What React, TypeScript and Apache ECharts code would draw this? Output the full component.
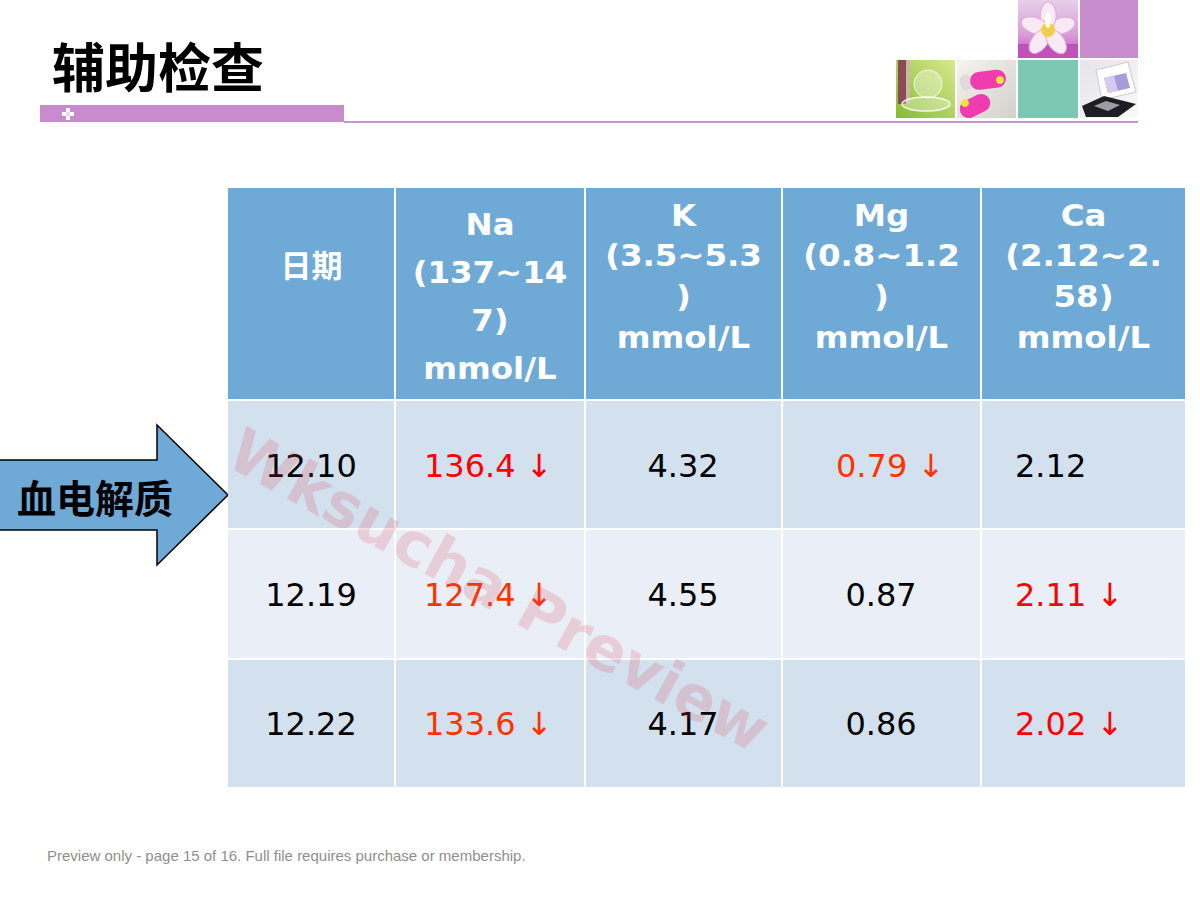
import React, { useEffect, useRef } from "react";
import * as echarts from "echarts";

// ---- data ----
const titleText = "辅助检查";
const arrowLabel = "血电解质";
const headerLines: string[][] = [
  ["日期"],
  ["Na", "(137~14", "7)", "mmol/L"],
  ["K", "(3.5~5.3", ")", "mmol/L"],
  ["Mg", "(0.8~1.2", ")", "mmol/L"],
  ["Ca", "(2.12~2.", "58)", "mmol/L"],
];
const dates = ["12.10", "12.19", "12.22"];
const naValues = [136.4, 127.4, 133.6];
const kValues = [4.32, 4.55, 4.17];
const mgValues = [0.79, 0.87, 0.86];
const caValues = [2.12, 2.11, 2.02];
const naLow = [true, true, true];
const kLow = [false, false, false];
const mgLow = [true, false, false];
const caLow = [false, true, true];
const naLowColors = ["#FF0000", "#FF3300", "#FF3300"];
const mgLowColors = ["#FF3300", "#FF3300", "#FF3300"];
const caLowColors = ["#FF0000", "#FF0000", "#FF0000"];
const kLowColors = ["#FF0000", "#FF0000", "#FF0000"];
const watermarkText = "Wksucha Preview";
const footerText =
  "Preview only - page 15 of 16. Full file requires purchase or membership.";

// ---- layout ----
const colX = [228, 395, 585, 782, 981, 1186];
const headerTop = 188;
const headerBottom = 399;
const rowTops = [401, 530, 660];
const rowBottoms = [528, 658, 787];
const rowFills = ["#D3E1EF", "#EAEFF7", "#D3E1EF"];
const headerFill = "#6FAAD7";
const purple = "#C88BCB";

function buildGraphics() {
  const els: any[] = [];
  els.push({ type: "rect", shape: { x: 0, y: 0, width: 1200, height: 900 }, style: { fill: "#fff" }, silent: true });

  // title
  els.push({
    type: "text",
    x: 52,
    y: 65,
    style: {
      text: titleText,
      font: 'bold 53px "Noto Sans CJK SC"',
      fill: "#000",
      textVerticalAlign: "middle",
    },
  });

  // purple bar and line
  els.push({ type: "rect", shape: { x: 40, y: 105, width: 304, height: 17 }, style: { fill: purple } });
  els.push({ type: "rect", shape: { x: 344, y: 121, width: 794, height: 2 }, style: { fill: "#C596CB" } });
  const ic = [
    [66, 108],
    [62, 112],
    [70, 112],
    [66, 116],
  ];
  ic.forEach(([x, y]) => els.push({ type: "rect", shape: { x, y, width: 4, height: 4 }, style: { fill: "#fff" } }));
  els.push({ type: "rect", shape: { x: 66, y: 112, width: 4, height: 4 }, style: { fill: "#E8D8EA" } });

  // ---- picture tiles (top right) ----
  els.push({
    type: "rect",
    shape: { x: 1018, y: 0, width: 60, height: 58 },
    style: { fill: new echarts.graphic.LinearGradient(0, 0, 0, 1, [
      { offset: 0, color: "#E6CFEA" },
      { offset: 0.6, color: "#D99CD8" },
      { offset: 1, color: "#C050C0" },
    ]) },
  });
  els.push({ type: "rect", shape: { x: 1018, y: 44, width: 60, height: 14 }, style: { fill: "#C050BA" } });
  const petalAngles = [0, 72, 144, 216, 288];
  petalAngles.forEach((a) => {
    els.push({
      type: "ellipse",
      x: 1048,
      y: 30,
      rotation: (a * Math.PI) / 180 + 0.3,
      shape: { cx: 14, cy: 0, rx: 14, ry: 8 },
      style: { fill: "#F8EAF4", stroke: "#DDAAD8", lineWidth: 1 },
    });
  });
  els.push({ type: "circle", shape: { cx: 1048, cy: 30, r: 7 }, style: { fill: "#F2CF48" } });
  els.push({ type: "ellipse", shape: { cx: 1048, cy: 20, rx: 3, ry: 8 }, style: { fill: "#FFFDF0" } });
  els.push({ type: "rect", shape: { x: 1080, y: 0, width: 58, height: 58 }, style: { fill: purple } });

  // perfume tile
  els.push({
    type: "rect",
    shape: { x: 896, y: 60, width: 59, height: 58 },
    style: { fill: new echarts.graphic.LinearGradient(1, 0, 0, 1, [
      { offset: 0, color: "#D7E98E" },
      { offset: 1, color: "#86BC32" },
    ]) },
  });
  els.push({ type: "rect", shape: { x: 898, y: 60, width: 8, height: 44 }, style: { fill: "#8C4A55" } });
  els.push({ type: "rect", shape: { x: 906, y: 60, width: 4, height: 44 }, style: { fill: "#C8B8A0" } });
  els.push({ type: "circle", shape: { cx: 928, cy: 84, r: 14 }, style: { fill: "rgba(255,255,255,0.35)", stroke: "rgba(255,255,255,0.8)", lineWidth: 1 } });
  els.push({ type: "ellipse", shape: { cx: 926, cy: 104, rx: 24, ry: 7 }, style: { fill: "rgba(255,255,255,0.3)", stroke: "rgba(255,255,255,0.85)", lineWidth: 1.5 } });

  // dumbbell tile
  els.push({
    type: "rect",
    shape: { x: 957, y: 60, width: 59, height: 58 },
    style: { fill: new echarts.graphic.LinearGradient(0, 0, 1, 1, [
      { offset: 0, color: "#F6F3EF" },
      { offset: 1, color: "#D4D0CC" },
    ]) },
  });
  els.push({ type: "rect", x: 986, y: 80, rotation: 0.12, shape: { x: -26, y: -8, width: 12, height: 16, r: 6 }, style: { fill: "#DDDBDB" } });
  els.push({ type: "rect", x: 986, y: 80, rotation: 0.12, shape: { x: -16, y: -9, width: 36, height: 18, r: 9 }, style: { fill: "#F03CAE" } });
  els.push({ type: "circle", shape: { cx: 1000, cy: 80, r: 4 }, style: { fill: "#F4E23C" } });
  els.push({ type: "rect", x: 975, y: 106, rotation: 0.45, shape: { x: -16, y: -9, width: 32, height: 18, r: 9 }, style: { fill: "#F03CAE" } });
  els.push({ type: "circle", shape: { cx: 965, cy: 103, r: 4 }, style: { fill: "#F4E23C" } });

  // teal tile
  els.push({ type: "rect", shape: { x: 1018, y: 60, width: 60, height: 58 }, style: { fill: "#7EC8B3" } });

  // eyeshadow tile
  els.push({
    type: "rect",
    shape: { x: 1080, y: 60, width: 58, height: 58 },
    style: { fill: new echarts.graphic.LinearGradient(0, 0, 1, 1, [
      { offset: 0, color: "#E4E4EA" },
      { offset: 1, color: "#FAFAFA" },
    ]) },
  });
  els.push({ type: "polygon", shape: { points: [[1096, 70], [1128, 62], [1136, 92], [1102, 100]] }, style: { fill: "#FFFFFF", stroke: "#C8C8D0", lineWidth: 1 } });
  els.push({ type: "polygon", shape: { points: [[1104, 78], [1126, 73], [1130, 88], [1108, 93]] }, style: { fill: "#A99BD9" } });
  els.push({ type: "polygon", shape: { points: [[1104, 78], [1114, 76], [1118, 91], [1108, 93]] }, style: { fill: "#D4CCF0" } });
  els.push({ type: "polygon", shape: { points: [[1082, 106], [1104, 96], [1136, 104], [1118, 117], [1086, 117]] }, style: { fill: "#1E1E22" } });
  els.push({ type: "polygon", shape: { points: [[1094, 106], [1106, 101], [1120, 105], [1108, 111]] }, style: { fill: "#9C9CA8" } });

  // ---- arrow ----
  els.push({
    type: "polygon",
    shape: { points: [[-5, 460], [157, 460], [157, 425], [228, 495], [157, 565], [157, 530], [-5, 530]] },
    style: { fill: "#6FAAD7", stroke: "#000", lineWidth: 1.5 },
  });
  els.push({
    type: "text",
    x: 95,
    y: 496,
    style: {
      text: arrowLabel,
      font: 'bold 39px "Noto Sans CJK SC"',
      fill: "#000",
      textAlign: "center",
      textVerticalAlign: "middle",
    },
  });

  // ---- table ----
  for (let c = 0; c < 5; c++) {
    const x0 = colX[c] + (c > 0 ? 1 : 0);
    const x1 = colX[c + 1] - 1;
    els.push({ type: "rect", shape: { x: x0, y: headerTop, width: x1 - x0, height: headerBottom - headerTop }, style: { fill: headerFill } });
    for (let r = 0; r < 3; r++) {
      els.push({ type: "rect", shape: { x: x0, y: rowTops[r], width: x1 - x0, height: rowBottoms[r] - rowTops[r] }, style: { fill: rowFills[r] } });
    }
  }

  headerLines.forEach((lines, c) => {
    const cx = (colX[c] + colX[c + 1]) / 2;
    let y0: number, lh: number;
    if (lines.length === 1) {
      y0 = 263;
      lh = 0;
    } else if (c === 1) {
      y0 = 224;
      lh = 48;
    } else {
      y0 = 215;
      lh = 40.7;
    }
    lines.forEach((ln, i) => {
      const cjk = /[\u4e00-\u9fff]/.test(ln);
      els.push({
        type: "text",
        x: cx,
        y: y0 + i * lh,
        scaleX: cjk ? 1.0 : 1.08,
        style: {
          text: ln,
          font: cjk ? 'bold 31px "Noto Sans CJK SC"' : 'bold 30px "DejaVu Sans"',
          fill: "#FFFFFF",
          textAlign: "center",
          textVerticalAlign: "middle",
        },
      });
    });
  });

  const rowY = [466, 595, 724];
  const cellFont = '32px "DejaVu Sans"';
  const pushCell = (text: string, x: number, y: number, align: string, color: string) => {
    els.push({
      type: "text",
      x,
      y,
      style: { text, font: cellFont, fill: color, textAlign: align, textVerticalAlign: "middle" },
    });
  };
  const cols = [
    { values: naValues, low: naLow, colors: naLowColors, digits: 1, normal: { x: 424, align: "left" }, flagged: { x: 424, align: "left" } },
    { values: kValues, low: kLow, colors: kLowColors, digits: 2, normal: { x: 683, align: "center" }, flagged: { x: 640, align: "left" } },
    { values: mgValues, low: mgLow, colors: mgLowColors, digits: 2, normal: { x: 881, align: "center" }, flagged: { x: 836, align: "left" } },
    { values: caValues, low: caLow, colors: caLowColors, digits: 2, normal: { x: 1015, align: "left" }, flagged: { x: 1015, align: "left" } },
  ];
  for (let r = 0; r < 3; r++) {
    pushCell(dates[r], 311, rowY[r], "center", "#000");
    cols.forEach((col) => {
      const v = col.values[r].toFixed(col.digits);
      if (col.low[r]) {
        pushCell(v + " ↓", col.flagged.x, rowY[r], col.flagged.align, col.colors[r]);
      } else {
        pushCell(v, col.normal.x, rowY[r], col.normal.align, "#000");
      }
    });
  }

  // watermark
  els.push({
    type: "text",
    x: 499,
    y: 590,
    rotation: -0.5,
    style: {
      text: watermarkText,
      font: 'bold 61px "DejaVu Sans"',
      fill: "rgba(222, 70, 90, 0.2)",
      textAlign: "center",
      textVerticalAlign: "middle",
    },
  });

  // footer
  els.push({
    type: "text",
    x: 47,
    y: 855,
    style: {
      text: footerText,
      font: '15px "Liberation Sans"',
      fill: "#8E8E8E",
      textVerticalAlign: "middle",
    },
  });

  return els;
}

export default function App() {
  const ref = useRef<HTMLDivElement>(null);
  useEffect(() => {
    if (!ref.current) return;
    const chart = echarts.init(ref.current, undefined, { renderer: "svg" });
    chart.setOption({
      animation: false,
      graphic: { elements: buildGraphics() },
    });
    return () => chart.dispose();
  }, []);
  return (
    <div
      ref={ref}
      style={{ position: "absolute", left: 0, top: 0, width: 1200, height: 900, background: "#fff" }}
    />
  );
}
